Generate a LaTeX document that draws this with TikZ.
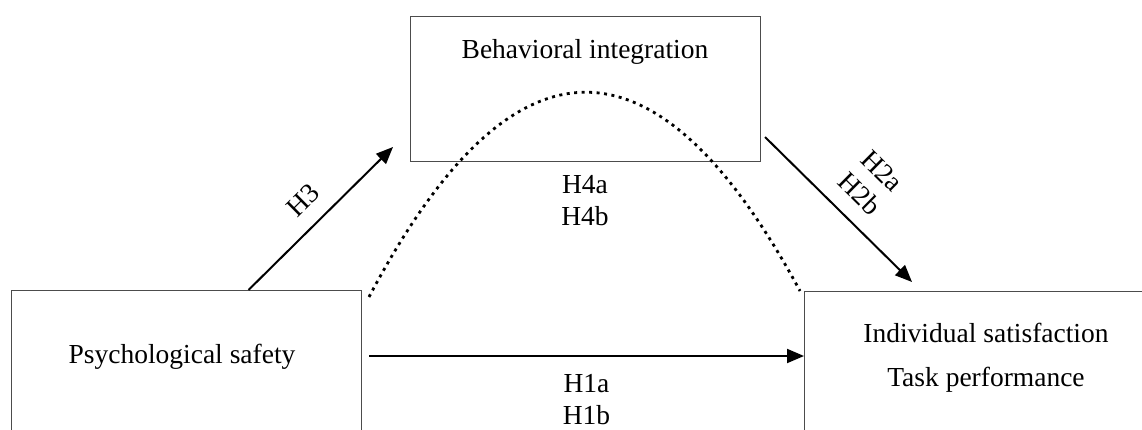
\documentclass[tikz,border=0pt]{standalone}
\usepackage{fontspec}
\setmainfont{Liberation Serif}
\usetikzlibrary{arrows.meta,positioning}

\begin{document}
\begin{tikzpicture}[x=1pt,y=-1pt,>={Triangle[length=17pt,width=14pt]},
  font=\fontsize{27.5}{32}\selectfont,
  box/.style={draw=black!70,line width=1pt,minimum width=350pt,minimum height=#1,anchor=north west,inner sep=0pt},
  lnk/.style={->,line width=2pt},
  hyp/.style={inner sep=0pt,align=center},
  curv/.style={line width=2.8pt,dash pattern=on 3pt off 4.5pt}]
  \clip (0,0) rectangle (1142,430);
  \node[box=145pt] (bi) at (410,16) {};
  \node[box=200pt] (ps) at (11,290) {};
  \node[box=200pt,minimum width=400pt] (out) at (804,291) {};
  \node (bitx) at (585,52) {Behavioral integration};
  \node (pstx) at (182,357) {Psychological safety};
  \node (outa) at (986,333) {Individual satisfaction};
  \node (outb) at (986,380) {Task performance};
  % paths
  \draw[lnk] ([xshift=62pt]ps.north) -- ([xshift=-17pt,yshift=15pt]bi.south west)
    node[midway,sloped,above=15pt,hyp] (h3) {H3};
  \draw[lnk] ([xshift=4pt,yshift=25pt]bi.south east) -- ([xshift=108pt,yshift=9pt]out.north west)
    node[pos=0.52,sloped,above=16pt,hyp] (h2) {H2a\\H2b};
  \draw[lnk] ([xshift=7pt,yshift=-66pt]ps.north east) -- ([yshift=-65pt]out.north west)
    node[midway,below=17pt,hyp] (h1) {H1a\\H1b};
  \draw[curv] ([xshift=7pt,yshift=-7pt]ps.north east) .. controls (512,26) and (656,24) .. ([xshift=-4pt]out.north west);
  \node[hyp] (h4) at (585,201) {H4a\\H4b};
\end{tikzpicture}
\end{document}
